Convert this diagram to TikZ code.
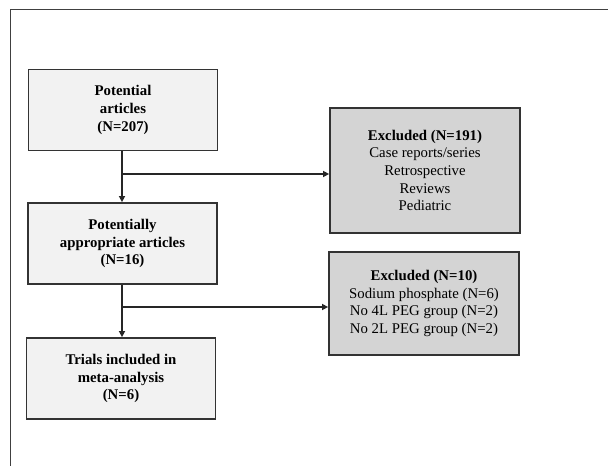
\documentclass[tikz,border=0pt]{standalone}
\usepackage{fontspec}
\setmainfont{Liberation Serif}
\usetikzlibrary{arrows.meta}
\begin{document}
\begin{tikzpicture}[x=1pt,y=-1pt,
  flowbox/.style={draw=black!80, line width=1.8pt, fill=black!5, minimum width=189pt, minimum height=81pt, align=center, font=\fontsize{14.8}{17.7}\selectfont\bfseries, inner sep=2pt},
  exbox/.style={draw=black!80, line width=1.8pt, fill=black!17, minimum width=190pt, align=center, font=\fontsize{14.8}{17.7}\selectfont, inner sep=2pt},
  conn/.style={draw=black!85, line width=1.5pt},
  arr/.style={conn, -{Triangle[length=6pt,width=6pt]}}]
\useasboundingbox (0,0) rectangle (608,466);
\draw[black!75, line width=1pt] (10,466) -- (10,9) -- (608,9);
\node[flowbox] (p1) at (123,110) {Potential\\articles\\(N=207)};
\node[flowbox] (p2) at (122.5,243.5) {Potentially\\appropriate articles\\(N=16)};
\node[flowbox] (p3) at (121,378.5) {Trials included in\\meta-analysis\\(N=6)};
\node[exbox, minimum height=125pt] (e1) at (425,170.5) {\textbf{Excluded (N=191)}\\Case reports/series\\Retrospective\\Reviews\\Pediatric};
\node[exbox, minimum height=103pt] (e2) at (424,303.5) {\textbf{Excluded (N=10)}\\Sodium phosphate (N=6)\\No 4L PEG group (N=2)\\No 2L PEG group (N=2)};
\coordinate (j1) at (122,174);
\coordinate (j2) at (122,307);
\draw[arr] (p1.south -| j1) -- (p2.north -| j1);
\draw[arr] (j1) -- (j1 -| e1.west);
\draw[arr] (p2.south -| j2) -- (p3.north -| j2);
\draw[arr] (j2) -- (j2 -| e2.west);
\end{tikzpicture}
\end{document}
